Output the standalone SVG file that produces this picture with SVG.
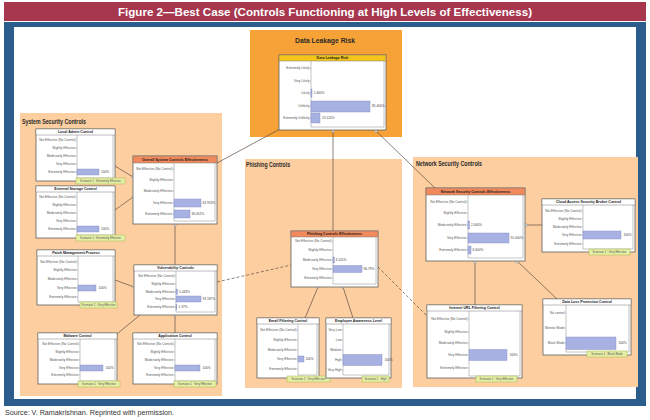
<svg xmlns="http://www.w3.org/2000/svg" width="650" height="420" viewBox="0 0 650 420">
<style>
  text { font-family: "Liberation Sans", Arial, sans-serif; }
  .frame-title { fill: #A6374F; }
  .frame-blue { fill: #2A5C8C; }
  .panel { fill: #FDCFA0; }
  .panel-risk { fill: #F7A236; }
  .ptitle { font-weight: bold; font-size: 6.4px; fill: #2a2a2a; }
  .box { fill: #fff; stroke: #5f5f5f; stroke-width: 0.8; }
  .hdr-w { fill: #fff; stroke: #7a7a7a; stroke-width: 0.5; }
  .hdr-o { fill: #F0895B; stroke: #7a7a7a; stroke-width: 0.5; }
  .hdr-y { fill: #F4C51A; stroke: #7a7a7a; stroke-width: 0.5; }
  .hd { font-weight: bold; font-size: 3.6px; fill: #1a1a1a; text-anchor: middle; }
  .plot { fill: none; stroke: #8a8a8a; stroke-width: 0.5; }
  .lbl { font-size: 3.2px; fill: #555; text-anchor: end; }
  .val { font-size: 3.2px; fill: #444; }
  .bar { fill: #A7B1E2; stroke: #7E88C2; stroke-width: 0.4; }
  .tag { fill: #E6EFA6; stroke: #A5B64E; stroke-width: 0.5; }
  .tagt { font-size: 2.9px; fill: #555; text-anchor: middle; }
  .link { stroke: #5d4c40; stroke-width: 0.7; fill: none; }
  .dash { stroke-dasharray: 3 2; }
  .port { fill: #fff; stroke: #777; stroke-width: 0.5; }
</style>

<!-- page frame -->
<rect class="frame-title" x="4" y="2" width="642" height="19"/>
<text x="325" y="15.5" font-size="11.5" font-weight="bold" fill="#fff" text-anchor="middle" textLength="414" lengthAdjust="spacingAndGlyphs">Figure 2—Best Case (Controls Functioning at High Levels of Effectiveness)</text>
<rect class="frame-blue" x="4" y="22" width="642" height="384"/>
<rect x="14" y="27" width="622" height="372" fill="#fff"/>
<text x="5" y="414.5" font-size="6.4" fill="#333" textLength="169" lengthAdjust="spacingAndGlyphs">Source:  V. Ramakrishnan. Reprinted with permission.</text>

<!-- group panels -->
<g id="panel-risk">
  <rect class="panel-risk" x="250" y="30" width="152" height="107"/>
  <text x="325" y="43" font-size="8" font-weight="bold" fill="#2a2a2a" text-anchor="middle" textLength="60" lengthAdjust="spacingAndGlyphs">Data Leakage Risk</text>
</g>
<g id="panel-system">
  <rect class="panel" x="20" y="113" width="202" height="283"/>
  <text class="ptitle" x="22" y="124" textLength="64" lengthAdjust="spacingAndGlyphs">System Security Controls</text>
</g>
<g id="panel-phishing">
  <rect class="panel" x="245" y="159" width="157" height="229"/>
  <text class="ptitle" x="246" y="167" textLength="44" lengthAdjust="spacingAndGlyphs">Phishing Controls</text>
</g>
<g id="panel-network">
  <rect class="panel" x="413" y="157" width="225" height="230"/>
  <text class="ptitle" x="416" y="166" textLength="66" lengthAdjust="spacingAndGlyphs">Network Security Controls</text>
</g>

<!-- connectors -->
<g id="connectors">
  <path class="link" d="M280,129 L217,163"/>
  <path class="link" d="M333,131 L333,231"/>
  <path class="link" d="M376,131 L435,188"/>
  <path class="link" d="M115,166 L133,177"/>
  <path class="link" d="M115,210 L133,197"/>
  <path class="link" d="M175,224 L175,265"/>
  <path class="link" d="M115,280 L134,287"/>
  <path class="link" d="M117,334 L140,315"/>
  <path class="link" d="M175,333 L175,315"/>
  <path class="link dash" d="M217,282 L291,265"/>
  <path class="link" d="M318,287 L305,318"/>
  <path class="link" d="M343,287 L353,318"/>
  <path class="link dash" d="M378,267 L427,316"/>
  <path class="link" d="M475,261 L475,305"/>
  <path class="link" d="M517,261 L557,299"/>
  <path class="link" d="M542,225 L525,225"/>
  <circle class="port" cx="280" cy="129" r="1.3"/>
  <circle class="port" cx="333" cy="131" r="1.3"/>
  <circle class="port" cx="376" cy="131" r="1.3"/>
  <circle class="port" cx="133" cy="177" r="1.2"/>
  <circle class="port" cx="133" cy="197" r="1.2"/>
  <circle class="port" cx="175" cy="225" r="1.2"/>
  <circle class="port" cx="134" cy="287" r="1.2"/>
  <circle class="port" cx="175" cy="315" r="1.2"/>
  <circle class="port" cx="318" cy="287" r="1.2"/>
  <circle class="port" cx="343" cy="287" r="1.2"/>
  <circle class="port" cx="475" cy="262" r="1.3"/>
  <circle class="port" cx="517" cy="262" r="1.3"/>
  <circle class="port" cx="526" cy="225" r="1.3"/>
</g>

<!-- Data Leakage Risk -->
<g id="data-leakage-risk">
  <rect class="box" x="279" y="55" width="107" height="75"/>
  <rect class="hdr-y" x="279" y="55" width="107" height="6"/>
  <text class="hd" x="332.5" y="59.3">Data Leakage Risk</text>
  <path class="plot" d="M311,61 V127 H384 V61 M310,68 H311 M310,81 H311 M310,93 H311 M310,106 H311 M310,118 H311"/>
  <text class="lbl" x="309.5" y="69.1">Extremely Likely</text>
  <text class="lbl" x="309.5" y="82.1">Very Likely</text>
  <text class="lbl" x="309.5" y="94.1">Likely</text>
  <text class="lbl" x="309.5" y="107.1">Unlikely</text>
  <text class="lbl" x="309.5" y="119.1">Extremely Unlikely</text>
  <rect class="bar" x="311" y="89" width="1" height="8"/>
  <text class="val" x="313.5" y="94.2">1.400%</text>
  <rect class="bar" x="311" y="101" width="59" height="11"/>
  <text class="val" x="372" y="107.2">85.400%</text>
  <rect class="bar" x="311" y="113" width="9" height="10"/>
  <text class="val" x="322" y="119.2">13.120%</text>
</g>

<!-- System security controls -->
<g id="local-admin-control">
  <rect class="box" x="36" y="129" width="79" height="52"/>
  <rect class="hdr-w" x="36" y="129" width="79" height="6"/>
  <text class="hd" x="75.5" y="133.3">Local Admin Control</text>
  <path class="plot" d="M77,135 V178 H113 V135 M76,140 H77 M76,148 H77 M76,156 H77 M76,164 H77 M76,172 H77"/>
  <text class="lbl" x="75.5" y="141.1">Not Effective (No Control)</text>
  <text class="lbl" x="75.5" y="149.1">Slightly Effective</text>
  <text class="lbl" x="75.5" y="157.1">Moderately Effective</text>
  <text class="lbl" x="75.5" y="165.1">Very Effective</text>
  <text class="lbl" x="75.5" y="173.1">Extremely Effective</text>
  <rect class="bar" x="77" y="169" width="22" height="6"/>
  <text class="val" x="101" y="173.2">100%</text>
  <rect class="tag" x="76" y="178" width="49" height="6"/>
  <text class="tagt" x="100.5" y="182">Scenario 1 : Extremely Effective</text>
</g>

<g id="external-storage-control">
  <rect class="box" x="36" y="186" width="79" height="52"/>
  <rect class="hdr-w" x="36" y="186" width="79" height="6"/>
  <text class="hd" x="75.5" y="190.3">External Storage Control</text>
  <path class="plot" d="M77,192 V235 H113 V192 M76,197 H77 M76,205 H77 M76,213 H77 M76,221 H77 M76,229 H77"/>
  <text class="lbl" x="75.5" y="198.1">Not Effective (No Control)</text>
  <text class="lbl" x="75.5" y="206.1">Slightly Effective</text>
  <text class="lbl" x="75.5" y="214.1">Moderately Effective</text>
  <text class="lbl" x="75.5" y="222.1">Very Effective</text>
  <text class="lbl" x="75.5" y="230.1">Extremely Effective</text>
  <rect class="bar" x="77" y="226" width="22" height="6"/>
  <text class="val" x="101" y="230.2">100%</text>
  <rect class="tag" x="76" y="235" width="49" height="6"/>
  <text class="tagt" x="100.5" y="239">Scenario 1 : Extremely Effective</text>
</g>

<g id="patch-management-process">
  <rect class="box" x="37" y="250" width="78" height="55"/>
  <rect class="hdr-w" x="37" y="250" width="78" height="6"/>
  <text class="hd" x="76" y="254.3">Patch Management Process</text>
  <path class="plot" d="M78,256 V302 H113 V256 M77,262 H78 M77,270 H78 M77,279 H78 M77,288 H78 M77,297 H78"/>
  <text class="lbl" x="76.5" y="263.1">Not Effective (No Control)</text>
  <text class="lbl" x="76.5" y="271.1">Slightly Effective</text>
  <text class="lbl" x="76.5" y="280.1">Moderately Effective</text>
  <text class="lbl" x="76.5" y="289.1">Very Effective</text>
  <text class="lbl" x="76.5" y="298.1">Extremely Effective</text>
  <rect class="bar" x="78" y="285" width="18" height="6"/>
  <text class="val" x="98.5" y="289.2">100%</text>
  <rect class="tag" x="80" y="302" width="37" height="6"/>
  <text class="tagt" x="98.5" y="306">Scenario 1 : Very Effective</text>
</g>

<g id="overall-system-controls">
  <rect class="box" x="133" y="156" width="84" height="68"/>
  <rect class="hdr-o" x="133" y="156" width="84" height="7"/>
  <text class="hd" x="175" y="160.8">Overall System Controls Effectiveness</text>
  <path class="plot" d="M174,163 V221 H215 V163 M173,169 H174 M173,180 H174 M173,191 H174 M173,203 H174 M173,214 H174"/>
  <text class="lbl" x="172.5" y="170.1">Not Effective (No Control)</text>
  <text class="lbl" x="172.5" y="181.1">Slightly Effective</text>
  <text class="lbl" x="172.5" y="192.1">Moderately Effective</text>
  <text class="lbl" x="172.5" y="204.1">Very Effective</text>
  <text class="lbl" x="172.5" y="215.1">Extremely Effective</text>
  <rect class="bar" x="174" y="199" width="27" height="8"/>
  <text class="val" x="202.5" y="204.2">63.953%</text>
  <rect class="bar" x="174" y="210" width="16" height="8"/>
  <text class="val" x="191.5" y="215.2">36.052%</text>
</g>

<g id="vulnerability-controls">
  <rect class="box" x="134" y="265" width="83" height="50"/>
  <rect class="hdr-w" x="134" y="265" width="83" height="6"/>
  <text class="hd" x="175.5" y="269.3">Vulnerability Controls</text>
  <path class="plot" d="M176,271 V312 H215 V271 M175,276 H176 M175,284 H176 M175,292 H176 M175,299 H176 M175,307 H176"/>
  <text class="lbl" x="174.5" y="277.1">Not Effective (No Control)</text>
  <text class="lbl" x="174.5" y="285.1">Slightly Effective</text>
  <text class="lbl" x="174.5" y="293.1">Moderately Effective</text>
  <text class="lbl" x="174.5" y="300.1">Very Effective</text>
  <text class="lbl" x="174.5" y="308.1">Extremely Effective</text>
  <rect class="bar" x="176" y="289.5" width="1.5" height="5"/>
  <text class="val" x="179" y="293.2">5.443%</text>
  <rect class="bar" x="176" y="296" width="25" height="6"/>
  <text class="val" x="202.5" y="300.2">93.187%</text>
  <rect class="bar" x="176" y="304.5" width="0.8" height="5"/>
  <text class="val" x="178.5" y="308.2">1.37%</text>
</g>

<g id="malware-control">
  <rect class="box" x="38" y="333" width="79" height="51"/>
  <rect class="hdr-w" x="38" y="333" width="79" height="6"/>
  <text class="hd" x="77.5" y="337.3">Malware Control</text>
  <path class="plot" d="M80,339 V381 H115 V339 M79,344 H80 M79,352 H80 M79,360 H80 M79,368 H80 M79,375 H80"/>
  <text class="lbl" x="78.5" y="345.1">Not Effective (No Control)</text>
  <text class="lbl" x="78.5" y="353.1">Slightly Effective</text>
  <text class="lbl" x="78.5" y="361.1">Moderately Effective</text>
  <text class="lbl" x="78.5" y="369.1">Very Effective</text>
  <text class="lbl" x="78.5" y="376.1">Extremely Effective</text>
  <rect class="bar" x="80" y="365" width="23" height="6"/>
  <text class="val" x="105.5" y="369.2">100%</text>
  <rect class="tag" x="78" y="381" width="42" height="6"/>
  <text class="tagt" x="99" y="385">Scenario 1 : Very Effective</text>
</g>

<g id="application-control">
  <rect class="box" x="133" y="333" width="84" height="51"/>
  <rect class="hdr-w" x="133" y="333" width="84" height="6"/>
  <text class="hd" x="175" y="337.3">Application Control</text>
  <path class="plot" d="M175,339 V381 H215 V339 M174,344 H175 M174,352 H175 M174,360 H175 M174,368 H175 M174,375 H175"/>
  <text class="lbl" x="173.5" y="345.1">Not Effective (No Control)</text>
  <text class="lbl" x="173.5" y="353.1">Slightly Effective</text>
  <text class="lbl" x="173.5" y="361.1">Moderately Effective</text>
  <text class="lbl" x="173.5" y="369.1">Very Effective</text>
  <text class="lbl" x="173.5" y="376.1">Extremely Effective</text>
  <rect class="bar" x="175" y="365" width="25" height="6"/>
  <text class="val" x="202.5" y="369.2">100%</text>
  <rect class="tag" x="174" y="381" width="42" height="6"/>
  <text class="tagt" x="195" y="385">Scenario 1 : Very Effective</text>
</g>

<!-- Phishing controls -->
<g id="phishing-controls">
  <rect class="box" x="291" y="231" width="87" height="56"/>
  <rect class="hdr-o" x="291" y="231" width="87" height="6"/>
  <text class="hd" x="334.5" y="235.3">Phishing Controls Effectiveness</text>
  <path class="plot" d="M333,237 V284 H376 V237 M332,241 H333 M332,250 H333 M332,260 H333 M332,269 H333 M332,278 H333"/>
  <text class="lbl" x="331.5" y="242.1">Not Effective (No Control)</text>
  <text class="lbl" x="331.5" y="251.1">Slightly Effective</text>
  <text class="lbl" x="331.5" y="261.1">Moderately Effective</text>
  <text class="lbl" x="331.5" y="270.1">Very Effective</text>
  <text class="lbl" x="331.5" y="279.1">Extremely Effective</text>
  <rect class="bar" x="333" y="257" width="1.2" height="6"/>
  <text class="val" x="335.5" y="261.2">3.101%</text>
  <rect class="bar" x="333" y="265.5" width="29" height="7"/>
  <text class="val" x="363.5" y="270.2">96.79%</text>
</g>

<g id="email-filtering-control">
  <rect class="box" x="257" y="318" width="62" height="60"/>
  <rect class="hdr-w" x="257" y="318" width="62" height="6"/>
  <text class="hd" x="288" y="322.3">Email Filtering Control</text>
  <path class="plot" d="M298,324 V375 H317 V324 M297,330 H298 M297,340 H298 M297,350 H298 M297,359 H298 M297,369 H298"/>
  <text class="lbl" x="296.5" y="331.1">Not Effective (No Control)</text>
  <text class="lbl" x="296.5" y="341.1">Slightly Effective</text>
  <text class="lbl" x="296.5" y="351.1">Moderately Effective</text>
  <text class="lbl" x="296.5" y="360.1">Very Effective</text>
  <text class="lbl" x="296.5" y="370.1">Extremely Effective</text>
  <rect class="bar" x="298" y="356" width="6" height="6"/>
  <text class="val" x="305.5" y="360.2">100%</text>
  <rect class="tag" x="287" y="376" width="43" height="6"/>
  <text class="tagt" x="308.5" y="380">Scenario 1 : Very Effective</text>
</g>

<g id="employee-awareness-level">
  <rect class="box" x="326" y="318" width="65" height="60"/>
  <rect class="hdr-w" x="326" y="318" width="65" height="6"/>
  <text class="hd" x="358.5" y="322.3">Employee Awareness Level</text>
  <path class="plot" d="M343,324 V375 H389 V324 M342,330 H343 M342,340 H343 M342,350 H343 M342,360 H343 M342,370 H343"/>
  <text class="lbl" x="341.5" y="331.1">Very Low</text>
  <text class="lbl" x="341.5" y="341.1">Low</text>
  <text class="lbl" x="341.5" y="351.1">Medium</text>
  <text class="lbl" x="341.5" y="361.1">High</text>
  <text class="lbl" x="341.5" y="371.1">Very High</text>
  <rect class="bar" x="343" y="354.5" width="39" height="11"/>
  <text class="val" x="384.5" y="361.2">100%</text>
  <rect class="tag" x="362" y="376" width="27" height="6"/>
  <text class="tagt" x="375.5" y="380">Scenario 1 : High</text>
</g>

<!-- Network security controls -->
<g id="network-security-controls">
  <rect class="box" x="426" y="188" width="99" height="73"/>
  <rect class="hdr-o" x="426" y="188" width="99" height="7"/>
  <text class="hd" x="475.5" y="192.8">Network Security Controls Effectiveness</text>
  <path class="plot" d="M468,195 V258 H523 V195 M467,202 H468 M467,213 H468 M467,225 H468 M467,238 H468 M467,250 H468"/>
  <text class="lbl" x="466.5" y="203.1">Not Effective (No Control)</text>
  <text class="lbl" x="466.5" y="214.1">Slightly Effective</text>
  <text class="lbl" x="466.5" y="226.1">Moderately Effective</text>
  <text class="lbl" x="466.5" y="239.1">Very Effective</text>
  <text class="lbl" x="466.5" y="251.1">Extremely Effective</text>
  <rect class="bar" x="468" y="221" width="1.5" height="8"/>
  <text class="val" x="471" y="226.2">2.000%</text>
  <rect class="bar" x="468" y="233" width="41" height="10"/>
  <text class="val" x="510.5" y="239.2">91.000%</text>
  <rect class="bar" x="468" y="246" width="3" height="8"/>
  <text class="val" x="472.5" y="251.2">6.600%</text>
</g>

<g id="cloud-access-security-broker-control">
  <rect class="box" x="542" y="199" width="93" height="53"/>
  <rect class="hdr-w" x="542" y="199" width="93" height="6"/>
  <text class="hd" x="588.5" y="203.3">Cloud Access Security Broker Control</text>
  <path class="plot" d="M583,205 V249 H633 V205 M582,211 H583 M582,219 H583 M582,227 H583 M582,235 H583 M582,244 H583"/>
  <text class="lbl" x="581.5" y="212.1">Not Effective (No Control)</text>
  <text class="lbl" x="581.5" y="220.1">Slightly Effective</text>
  <text class="lbl" x="581.5" y="228.1">Moderately Effective</text>
  <text class="lbl" x="581.5" y="236.1">Very Effective</text>
  <text class="lbl" x="581.5" y="245.1">Extremely Effective</text>
  <rect class="bar" x="583" y="231" width="38" height="8"/>
  <text class="val" x="623.5" y="236.2">100%</text>
  <rect class="tag" x="589" y="249" width="41" height="6"/>
  <text class="tagt" x="609.5" y="253">Scenario 1 : Very Effective</text>
</g>

<g id="internet-url-filtering-control">
  <rect class="box" x="427" y="305" width="95" height="73"/>
  <rect class="hdr-w" x="427" y="305" width="95" height="6"/>
  <text class="hd" x="474.5" y="309.3">Internet URL Filtering Control</text>
  <path class="plot" d="M469,311 V376 H520 V311 M468,319 H469 M468,332 H469 M468,343 H469 M468,355 H469 M468,368 H469"/>
  <text class="lbl" x="467.5" y="320.1">Not Effective (No Control)</text>
  <text class="lbl" x="467.5" y="333.1">Slightly Effective</text>
  <text class="lbl" x="467.5" y="344.1">Moderately Effective</text>
  <text class="lbl" x="467.5" y="356.1">Very Effective</text>
  <text class="lbl" x="467.5" y="369.1">Extremely Effective</text>
  <rect class="bar" x="469" y="349.5" width="38" height="11"/>
  <text class="val" x="509.5" y="356.2">100%</text>
  <rect class="tag" x="476" y="376" width="41" height="6"/>
  <text class="tagt" x="496.5" y="380">Scenario 1 : Very Effective</text>
</g>

<g id="data-loss-protection-control">
  <rect class="box" x="543" y="299" width="88" height="56"/>
  <rect class="hdr-w" x="543" y="299" width="88" height="6"/>
  <text class="hd" x="587" y="303.3">Data Loss Protection Control</text>
  <path class="plot" d="M566,305 V352 H629 V305 M565,313 H566 M565,328 H566 M565,343 H566"/>
  <text class="lbl" x="564.5" y="314.1">No control</text>
  <text class="lbl" x="564.5" y="329.1">Monitor Mode</text>
  <text class="lbl" x="564.5" y="344.1">Block Mode</text>
  <rect class="bar" x="566" y="337" width="50" height="12.5"/>
  <text class="val" x="618.5" y="344.2">100%</text>
  <rect class="tag" x="587" y="351" width="40" height="6"/>
  <text class="tagt" x="607" y="355">Scenario 1 : Block Mode</text>
</g>
</svg>
